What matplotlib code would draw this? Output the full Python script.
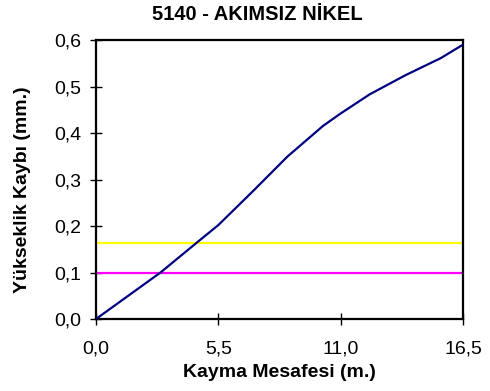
import matplotlib
matplotlib.use("Agg")
import matplotlib.pyplot as plt
from matplotlib.ticker import FixedLocator, FuncFormatter

plt.rcParams['font.family'] = ['Liberation Sans', 'DejaVu Sans']

# Wear curve: height loss vs sliding distance
distance = [0.0, 2.9, 4.5, 5.5, 7.1, 8.6, 10.2, 11.0, 12.3, 13.9, 15.5, 16.5]
height_loss = [0.0, 0.100, 0.163, 0.202, 0.277, 0.349, 0.415, 0.442, 0.483, 0.524, 0.561, 0.59]

# Reference limits
yellow_limit = 0.163
magenta_limit = 0.10

x_ticks = [0.0, 5.5, 11.0, 16.5]
y_ticks = [0.0, 0.1, 0.2, 0.3, 0.4, 0.5, 0.6]

fig = plt.figure(figsize=(4.9, 3.91), dpi=100)
ax = fig.add_axes([96 / 490, 1 - 319 / 391, (463 - 96) / 490, (319 - 40) / 391])

ax.axhline(yellow_limit, color='#FFFF00', lw=1.6, zorder=2)
ax.axhline(magenta_limit, color='#FF00FF', lw=1.6, zorder=2)
ax.plot(distance, height_loss, color='#000080', lw=1.6, zorder=3)

ax.set_xlim(0, 16.5)
ax.set_ylim(0, 0.6)
ax.xaxis.set_major_locator(FixedLocator(x_ticks))
ax.yaxis.set_major_locator(FixedLocator(y_ticks))
fmt = FuncFormatter(lambda v, p: f"{v:.1f}".replace('.', ','))
ax.xaxis.set_major_formatter(fmt)
ax.yaxis.set_major_formatter(fmt)
ax.tick_params(direction='inout', length=9, width=1, labelsize=14)
ax.tick_params(axis='x', pad=11)
ax.tick_params(axis='y', pad=6)

for s in ax.spines.values():
    s.set_linewidth(1.6)
    s.set_color('black')

ax.set_xlabel('Kayma Mesafesi (m.)', fontsize=14, fontweight='bold')
ax.xaxis.set_label_coords(0.5, -0.161)
ax.set_ylabel('Yükseklik Kaybı (mm.)', fontsize=14, fontweight='bold', va='center')
ax.yaxis.set_label_coords(-0.2016, 0.462)
fig.text(257 / 490, 1 - 15 / 391, '5140 - AKIMSIZ NİKEL', ha='center', va='center',
         fontsize=14.5, fontweight='bold')

fig.savefig('out.png', dpi=100)
